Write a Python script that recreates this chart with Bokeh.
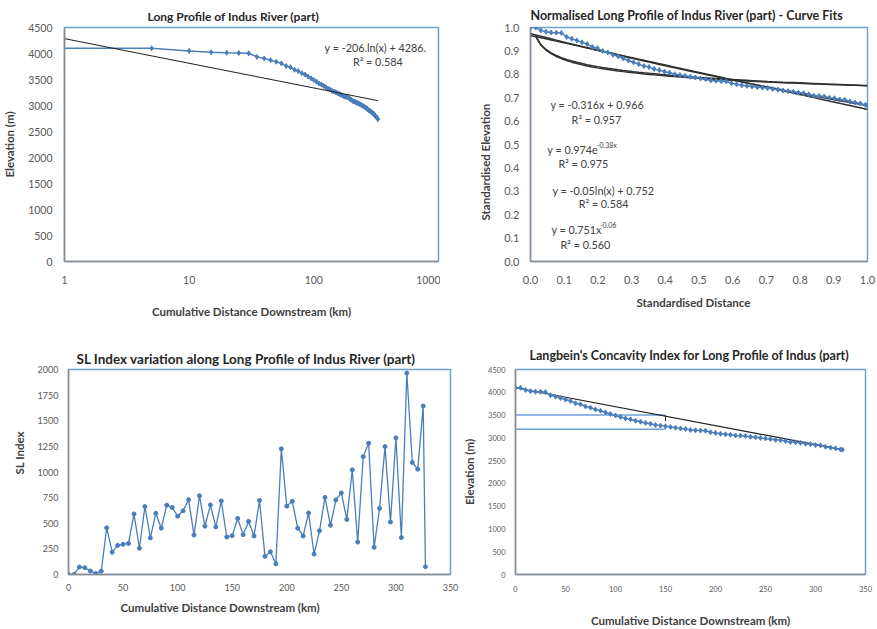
import numpy as np
from bokeh.plotting import figure
from bokeh.layouts import column, row
from bokeh.models import Range1d, FixedTicker, NumeralTickFormatter, Title
from bokeh.embed import file_html
from bokeh.resources import INLINE
from bokeh.core.properties import value

# ---------------- data ----------------
distance_km = [0, 5, 10, 15, 20, 25, 30, 35, 40, 45, 50, 55, 60, 65, 70, 75, 80, 85, 90, 95,
               100, 105, 110, 115, 120, 125, 130, 135, 140, 145, 150, 155, 160, 165, 170, 175,
               180, 185, 190, 195, 200, 205, 210, 215, 220, 225, 230, 235, 240, 245, 250, 255,
               260, 265, 270, 275, 280, 285, 290, 295, 300, 305, 310, 315, 320, 325, 327]
elevation_m = [4100, 4100, 4050, 4025, 4013, 4010, 4005, 3935, 3905, 3872, 3840, 3810, 3758, 3737,
               3687, 3662, 3622, 3595, 3557, 3522, 3490, 3459, 3424, 3406, 3373, 3353, 3326, 3308,
               3281, 3268, 3254, 3236, 3223, 3206, 3194, 3172, 3166, 3159, 3156, 3124, 3106, 3088,
               3077, 3067, 3053, 3048, 3038, 3022, 3011, 2996, 2985, 2975, 2956, 2950, 2929, 2906,
               2901, 2890, 2869, 2860, 2840, 2834, 2802, 2785, 2769, 2744, 2740]
sl_index = [0, 0, 73, 66, 35, 10, 32, 455, 218, 284, 294, 303, 591, 256, 663, 357, 597, 452, 676,
            654, 569, 622, 730, 385, 768, 471, 679, 464, 717, 366, 379, 547, 389, 518, 376, 723,
            177, 221, 104, 1226, 667, 714, 452, 376, 600, 199, 427, 752, 480, 727, 796, 537, 1021,
            316, 1150, 1280, 265, 645, 1248, 512, 1333, 360, 1965, 1093, 1027, 1643, 76]

# trendline coefficients shown on the charts
log_fit_p1 = (-206.0, 4286.0)        # y = a ln(x) + b
lin_fit = (-0.316, 0.966)            # y = a x + b
exp_fit = (0.974, -0.38)             # y = a e^(b x)
log_fit = (-0.05, 0.752)             # y = a ln(x) + b
pow_fit = (0.751, -0.06)             # y = a x^b

# Langbein construction
langbein_mid_km = 150
langbein_levels = [3500, 3190]
langbein_tick = [3490, 3365]

# ---------------- style ----------------
FONT = "Lato"
BLUE = "#4a7ebb"
FRAME = "#6f9fd8"
AXIS = "#8c8c8c"
TICKC = "#595959"
LABC = "#404040"
TITLEC = "#262626"
AXLAB_SIZE = "11.5px"


def make_fig(w, h, left, right, top, bottom, title, title_off, title_size, title_standoff,
             tick_size, **kw):
    p = figure(width=w, height=h, min_border_left=left, min_border_right=right,
               min_border_top=top, min_border_bottom=bottom, toolbar_location=None,
               output_backend="svg", **kw)
    p.xgrid.visible = False
    p.ygrid.visible = False
    p.outline_line_color = FRAME
    p.outline_line_width = 1.5
    p.background_fill_color = "white"
    p.border_fill_color = "white"
    p.title.text = title
    p.title.align = "left"
    p.title.offset = title_off
    p.title.text_font = FONT
    p.title.text_font_style = "bold"
    p.title.text_font_size = title_size
    p.title.text_color = TITLEC
    p.title.standoff = title_standoff
    for ax in (p.xaxis[0], p.yaxis[0]):
        ax.axis_line_color = AXIS
        ax.axis_line_width = 1.5
        ax.major_tick_line_color = None
        ax.minor_tick_line_color = None
        ax.major_tick_in = 0
        ax.major_tick_out = 0
        ax.minor_tick_in = 0
        ax.minor_tick_out = 0
        ax.major_label_text_font = FONT
        ax.major_label_text_font_size = tick_size
        ax.major_label_text_color = TICKC
        ax.axis_label_text_font = FONT
        ax.axis_label_text_font_style = "bold"
        ax.axis_label_text_font_size = AXLAB_SIZE
        ax.axis_label_text_color = LABC
    return p


def txt(p, x, y, s, size="10.8px", align="left"):
    p.text(x=[x], y=[y], text=[s], text_font=value(FONT), text_font_size=size,
           text_color="#404040", text_align=align, text_baseline="middle")


def axis_title(p, side, s, offset, standoff):
    p.add_layout(Title(text=s, align="left", offset=offset, standoff=standoff,
                       text_font=FONT, text_font_style="bold", text_font_size=AXLAB_SIZE,
                       text_color=LABC), side)


# ---------------- panel 1 ----------------
p1 = make_fig(440, 320, 60, 2, 26, 54, "Long Profile of Indus River (part)", 83, "12px", 8,
              "10.5px", x_axis_type="log", x_range=Range1d(1, 1000),
              y_range=Range1d(0, 4500))
p1.xaxis.ticker = FixedTicker(ticks=[1, 10, 100, 1000])
p1.xaxis.formatter = NumeralTickFormatter(format="0")
p1.yaxis.ticker = FixedTicker(ticks=list(range(0, 4501, 500)))
p1.xaxis.axis_label = "Cumulative Distance Downstream (km)"
p1.yaxis.axis_label = "Elevation (m)"
p1.xaxis.major_label_standoff = 14
p1.yaxis.major_label_standoff = 12
p1.xaxis.axis_label_standoff = 18
p1.yaxis.axis_label_standoff = 9
d_log = [max(d, 1) for d in distance_km]
p1.line(d_log, elevation_m, color=BLUE, line_width=1.5)
p1.scatter(d_log[1:], elevation_m[1:], marker="diamond", size=5, color=BLUE)
xt = np.array([1.0, distance_km[-1]])
p1.line(xt, log_fit_p1[0] * np.log(xt) + log_fit_p1[1], color="#202020", line_width=1)
txt(p1, 122, 4119, "y = -206.ln(x) + 4286.")
txt(p1, 206, 3838, "R² = 0.584")

# ---------------- panel 2 ----------------
p2 = make_fig(437, 320, 90, 10, 25, 59,
              "Normalised Long Profile of Indus River (part) - Curve Fits", 0, "12.5px", 10,
              "11px", x_range=Range1d(0, 1), y_range=Range1d(0, 1))
ticks01 = [round(i * 0.1, 1) for i in range(11)]
p2.xaxis.ticker = FixedTicker(ticks=ticks01)
p2.yaxis.ticker = FixedTicker(ticks=ticks01)
p2.xaxis.formatter = NumeralTickFormatter(format="0.0")
p2.yaxis.formatter = NumeralTickFormatter(format="0.0")
p2.xaxis.major_label_standoff = 14
p2.yaxis.major_label_standoff = 11
axis_title(p2, "below", "Standardised Distance", 106, 14)
axis_title(p2, "left", "Standardised Elevation", 41, 20)
xn = np.array(distance_km) / distance_km[-1]
yn = np.array(elevation_m) / max(elevation_m)
xc = xn[1:]
p2.line(xn, lin_fit[0] * xn + lin_fit[1], color="#303030", line_width=1.5)
p2.line(xn, exp_fit[0] * np.exp(exp_fit[1] * xn), color="#303030", line_width=1.5)
p2.line(xc, log_fit[0] * np.log(xc) + log_fit[1], color="#303030", line_width=1.5)
p2.line(xc, pow_fit[0] * xc ** pow_fit[1], color="#303030", line_width=1.5)
p2.line(xn, yn, color=BLUE, line_width=1.5)
p2.scatter(xn, yn, marker="diamond", size=5, color=BLUE)
txt(p2, 0.059, 0.669, "y = -0.316x + 0.966")
txt(p2, 0.122, 0.606, "R² = 0.957")
txt(p2, 0.050, 0.479, "y = 0.974e")
txt(p2, 0.197, 0.497, "-0.38x", size="7px")
txt(p2, 0.083, 0.419, "R² = 0.975")
txt(p2, 0.065, 0.305, "y = -0.05ln(x) + 0.752")
txt(p2, 0.143, 0.246, "R² = 0.584")
txt(p2, 0.062, 0.136, "y = 0.751x")
txt(p2, 0.206, 0.154, "-0.06", size="7px")
txt(p2, 0.089, 0.072, "R² = 0.560")

# ---------------- panel 3 ----------------
p3 = make_fig(460, 309, 68, 10, 49, 49,
              "SL Index variation along Long Profile of Indus River (part)", 8, "13.5px", 6,
              "9px", x_range=Range1d(0, 350), y_range=Range1d(0, 2000))
p3.xaxis.ticker = FixedTicker(ticks=list(range(0, 351, 50)))
p3.yaxis.ticker = FixedTicker(ticks=list(range(0, 2001, 250)))
p3.xaxis.major_label_standoff = 9
p3.yaxis.major_label_standoff = 10
axis_title(p3, "below", "Cumulative Distance Downstream (km)", 52, 10)
axis_title(p3, "left", "SL Index", 100, 18)
p3.line(distance_km, sl_index, color=BLUE, line_width=1.3)
p3.scatter(distance_km, sl_index, marker="circle", size=4, color=BLUE)

# ---------------- panel 4 ----------------
p4 = make_fig(417, 309, 51, 12, 42, 53,
              "Langbein's Concavity Index for Long Profile of Indus (part)", 14, "12.5px", 14,
              "7.5px", x_range=Range1d(0, 350), y_range=Range1d(0, 4500))
p4.xaxis.ticker = FixedTicker(ticks=list(range(0, 351, 50)))
p4.yaxis.ticker = FixedTicker(ticks=list(range(0, 4501, 500)))
p4.xaxis.axis_label = "Cumulative Distance Downstream (km)"
p4.yaxis.axis_label = "Elevation (m)"
p4.xaxis.major_label_standoff = 11
p4.yaxis.major_label_standoff = 10
p4.xaxis.axis_label_standoff = 19
p4.yaxis.axis_label_standoff = 9
for lev in langbein_levels:
    p4.line([0, langbein_mid_km], [lev, lev], color=FRAME, line_width=1.5)
p4.line([langbein_mid_km, langbein_mid_km], langbein_tick, color="#202020", line_width=1)
p4.line([distance_km[0], distance_km[-1]], [elevation_m[0], elevation_m[-1]],
        color="#202020", line_width=1.2)
p4.line(distance_km, elevation_m, color=BLUE, line_width=1.5)
p4.scatter(distance_km, elevation_m, marker="diamond", size=5, color=BLUE)

layout = column(row(p1, p2), row(p3, p4))
open("out.html", "w").write(file_html(layout, INLINE))
